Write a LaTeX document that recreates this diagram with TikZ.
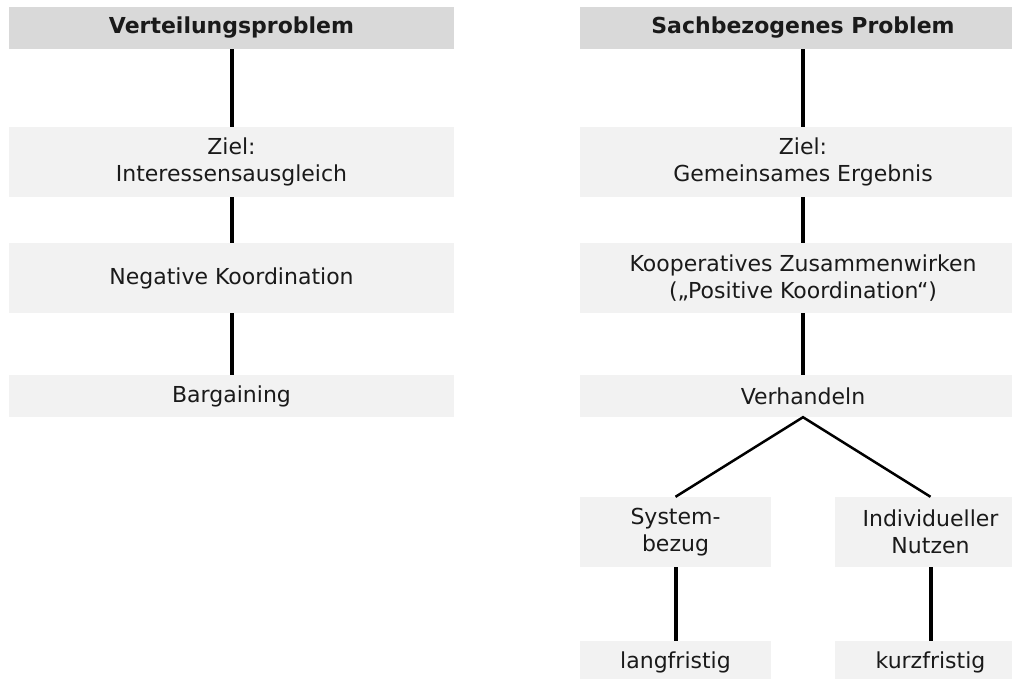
\documentclass[tikz,border=0pt]{standalone}
\usepackage{fontspec}
\setmainfont{DejaVu Sans}
\definecolor{boxfill}{HTML}{F2F2F2}
\definecolor{headfill}{HTML}{D9D9D9}
\definecolor{txt}{HTML}{1A1A1A}
\begin{document}
\begin{tikzpicture}[x=1pt,y=-1pt,
  every node/.style={font=\fontsize{22}{27}\selectfont, text=txt, align=center, inner sep=0pt},
  wide/.style={rectangle, fill=boxfill, minimum width=445pt},
  small/.style={rectangle, fill=boxfill, minimum width=191pt},
  head/.style={rectangle, fill=headfill, minimum width=445pt, minimum height=42pt, font=\fontsize{22}{27}\selectfont\bfseries},
  tall/.style={minimum height=70pt},
  low/.style={minimum height=42pt},
  conn/.style={line width=4pt, black},
  diag/.style={line width=2.5pt, black}]
\useasboundingbox (0,0) rectangle (1012,679);
\clip (0,0) rectangle (1012,679);
% left column
\node[head] (h1) at (231.5,28) {Verteilungsproblem};
\node[wide,tall] (z1) at (231.5,162) {Ziel:\\Interessensausgleich};
\node[wide,tall] (n1) at (231.5,278) {Negative Koordination};
\node[wide,low] (b1) at (231.5,396) {Bargaining};
% right column
\node[head,minimum width=446pt] (h2) at (803,28) {Sachbezogenes Problem};
\node[wide,tall,minimum width=446pt] (z2) at (803,162) {Ziel:\\Gemeinsames Ergebnis};
\node[wide,tall,minimum width=446pt] (k2) at (803,278) {Kooperatives Zusammenwirken\\(„Positive Koordination“)};
\node[wide,low,minimum width=446pt] (v2) at (803,396) {Verhandeln};
\node[small,tall] (s2) at (675.5,532) {System-\\bezug};
\node[small,tall] (i2) at (930.5,532) {Individueller\\Nutzen};
\node[small,low] (l2) at (675.5,662) {langfristig};
\node[small,low] (k3) at (930.5,662) {kurzfristig};
% connectors
\draw[conn] (h1.south) -- (z1.north);
\draw[conn] (z1.south) -- (n1.north);
\draw[conn] (n1.south) -- (b1.north);
\draw[conn] (h2.south) -- (z2.north);
\draw[conn] (z2.south) -- (k2.north);
\draw[conn] (k2.south) -- (v2.north);
\draw[diag] (s2.north) -- (v2.south) -- (i2.north);
\draw[conn] (s2.south) -- (l2.north);
\draw[conn] (i2.south) -- (k3.north);
\end{tikzpicture}
\end{document}
